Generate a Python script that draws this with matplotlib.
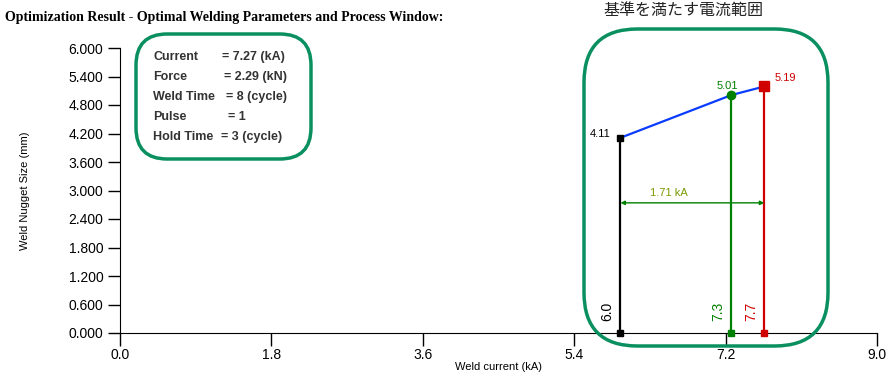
import matplotlib.pyplot as plt
from matplotlib.patches import FancyBboxPatch

# process window points (current kA, nugget size mm)
currents = [5.95, 7.27, 7.66]
nugget = [4.11, 5.01, 5.19]
point_colors = ["black", "green", "#d00000"]
current_labels = ["6.0", "7.3", "7.7"]
nugget_labels = ["4.11", "5.01", "5.19"]
window_label = "1.71 kA"
arrow_y = 2.74

params = ["Current", "Force", "Weld Time", "Pulse", "Hold Time"]
param_vals = ["= 7.27 (kA)", "= 2.29 (kN)", "= 8 (cycle)", "= 1", "= 3 (cycle)"]

xticks = [0.0, 1.8, 3.6, 5.4, 7.2, 9.0]
yticks = [0.0, 0.6, 1.2, 1.8, 2.4, 3.0, 3.6, 4.2, 4.8, 5.4, 6.0]

plt.rcParams["font.family"] = ["Liberation Sans", "Noto Sans CJK JP", "DejaVu Sans"]

fig = plt.figure(figsize=(8.91, 3.72), dpi=100)
ax = fig.add_axes([120 / 891, 1 - 333 / 372, 757 / 891, 285 / 372])
ax.set_xlim(0, 9.0)
ax.set_ylim(0, 6.0)
ax.set_xticks(xticks)
ax.set_xticklabels([f"{v:.1f}" for v in xticks], fontsize=10)
ax.set_yticks(yticks)
ax.set_yticklabels([f"{v:.3f}" for v in yticks], fontsize=10)
ax.tick_params(direction="out", length=9, width=1, pad=3)
ax.tick_params(axis="x", pad=2)
for s in ["top", "right"]:
    ax.spines[s].set_visible(False)
ax.set_xlabel("Weld current (kA)", fontsize=8, labelpad=0)
ax.set_ylabel("Weld Nugget Size (mm)", fontsize=8, labelpad=28)

# vertical lines
for x, y, c in zip(currents, nugget, point_colors):
    ax.plot([x, x], [0, y], color=c, lw=1.6, zorder=3)
    ax.plot(x, 0, marker="s", color=c, ms=4.5, zorder=4, clip_on=False)

ax.plot(currents, nugget, color="#0a3cff", lw=1.6, zorder=2)
ax.plot(currents[0], nugget[0], marker="s", color=point_colors[0], ms=5, zorder=4)
ax.plot(currents[1], nugget[1], marker="o", color=point_colors[1], ms=6, zorder=4)
ax.plot(currents[2], nugget[2], marker="s", color=point_colors[2], ms=7, zorder=4)

ax.text(currents[0] - 0.12, nugget[0] - 0.02, nugget_labels[0], fontsize=8,
        color="black", ha="right", va="bottom")
ax.text(currents[1] - 0.05, nugget[1] + 0.08, nugget_labels[1], fontsize=8,
        color="green", ha="center", va="bottom")
ax.text(currents[2] + 0.12, nugget[2] + 0.08, nugget_labels[2], fontsize=8,
        color="#d00000", ha="left", va="bottom")

for x, c, lab in zip(currents, point_colors, current_labels):
    ax.text(x - 0.07, 0.25, lab, fontsize=10, color=c, rotation=90,
            ha="right", va="bottom")

ax.annotate("", xy=(currents[0], arrow_y), xytext=(currents[2], arrow_y),
            arrowprops=dict(arrowstyle="<|-|>", color="green", lw=1,
                            mutation_scale=6, shrinkA=0, shrinkB=0))
ax.text((currents[0] + currents[1]) / 2 - 0.08, arrow_y + 0.1, window_label,
        fontsize=8, color="#7a9a00", ha="center", va="bottom")

# process window outline
win = FancyBboxPatch((584 / 891, 1 - 346 / 372), 244 / 891, 317 / 372,
                     boxstyle="round,pad=0,rounding_size=0.06",
                     transform=fig.transFigure, fill=False, ec="#0a9060",
                     lw=2.5, mutation_aspect=891 / 372)
fig.patches.append(win)
fig.text(683 / 891, 1 - 11 / 372, "基準を満たす電流範囲", fontsize=11.5,
         color="#222222", ha="center", va="center",
         family=["Noto Sans CJK JP", "DejaVu Sans"])

# parameter box
pbox = FancyBboxPatch((136 / 891, 1 - 159 / 372), 175 / 891, 125 / 372,
                      boxstyle="round,pad=0,rounding_size=0.035",
                      transform=fig.transFigure, fill=False, ec="#0a9060",
                      lw=2.5, mutation_aspect=891 / 372)
fig.patches.append(pbox)
xs = [222, 224, 226, 228, 221]
for i, (p, v) in enumerate(zip(params, param_vals)):
    yy = 1 - (57 + i * 20) / 372
    fig.text(153 / 891, yy, p, fontsize=9, fontweight="bold",
             color="#333333", va="center")
    fig.text(xs[i] / 891, yy, v, fontsize=9, fontweight="bold",
             color="#333333", va="center")

fig.text(5 / 891, 1 - 18 / 372,
         "Optimization Result - Optimal Welding Parameters and Process Window:",
         fontsize=10, fontweight="bold", family="Liberation Serif",
         va="center", ha="left")

fig.savefig("out.png", dpi=100)
